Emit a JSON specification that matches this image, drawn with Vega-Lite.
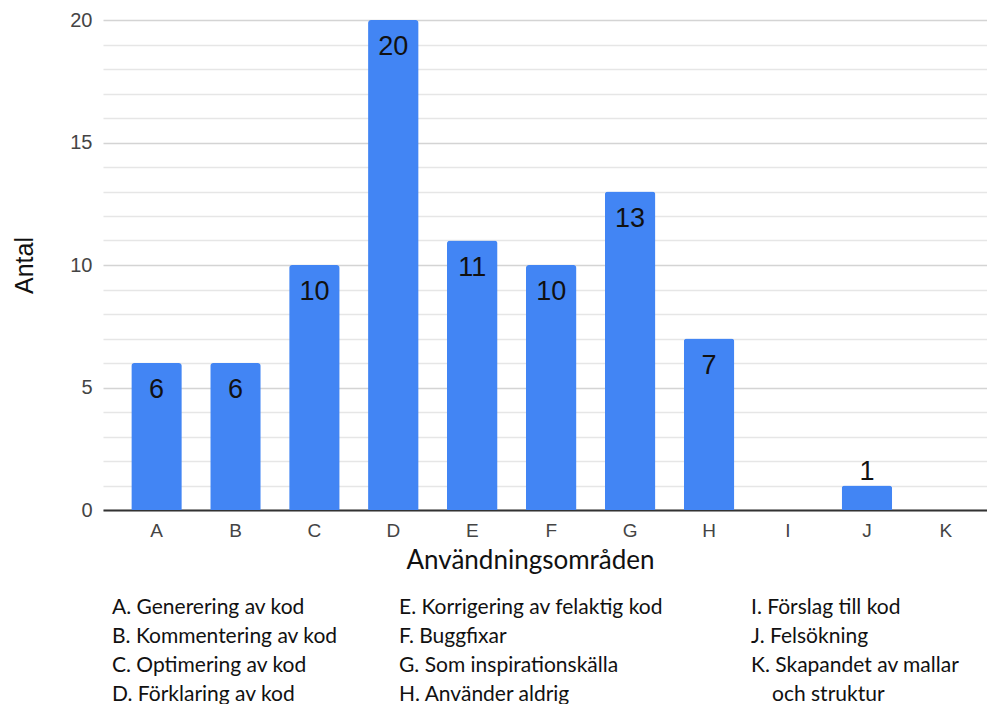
{
  "$schema": "https://vega.github.io/schema/vega-lite/v6.json",
  "padding": {"left": 12, "top": 10, "right": 0, "bottom": 0},
  "spacing": 21,
  "background": "white",
  "config": {"view": {"stroke": null}},
  "vconcat": [
    {
      "width": 884,
      "height": 490,
      "data": {"values": [
        {"omrade": "A", "antal": 6},
        {"omrade": "B", "antal": 6},
        {"omrade": "C", "antal": 10},
        {"omrade": "D", "antal": 20},
        {"omrade": "E", "antal": 11},
        {"omrade": "F", "antal": 10},
        {"omrade": "G", "antal": 13},
        {"omrade": "H", "antal": 7},
        {"omrade": "I", "antal": 0},
        {"omrade": "J", "antal": 1},
        {"omrade": "K", "antal": 0}
      ]},
      "encoding": {
        "x": {
          "field": "omrade", "type": "nominal", "sort": null,
          "scale": {"paddingInner": 0.36, "paddingOuter": 0.28, "align": 0.64},
          "axis": {
            "title": "Användningsområden",
            "titleFont": "Lato", "titleFontSize": 26, "titleFontWeight": "normal", "titleColor": "#111",
            "titlePadding": 7, "titleX": 427, "titleAlign": "center",
            "labelAngle": 0, "labelFont": "Liberation Sans", "labelFontSize": 19, "labelColor": "#444",
            "labelPadding": 11,
            "ticks": false, "domainColor": "#333", "domainWidth": 2, "grid": false
          }
        },
        "y": {
          "field": "antal", "type": "quantitative",
          "scale": {"domain": [0, 20], "nice": false},
          "axis": {
            "title": "Antal",
            "titleFont": "Liberation Sans", "titleFontSize": 25, "titleFontWeight": "normal", "titleColor": "#111",
            "titlePadding": 32,
            "values": [0,1,2,3,4,5,6,7,8,9,10,11,12,13,14,15,16,17,18,19,20],
            "labelExpr": "datum.value % 5 === 0 ? datum.label : ''",
            "labelFont": "Liberation Sans", "labelFontSize": 20, "labelColor": "#444", "labelPadding": 11,
            "ticks": false, "domain": false,
            "gridColor": {"condition": {"test": "datum.value % 5 === 0", "value": "#d4d4d4"}, "value": "#e6e6e6"},
            "gridWidth": 1.5
          }
        }
      },
      "layer": [
        {"mark": {"type": "bar", "color": "#4285F4", "cornerRadiusTopLeft": 3, "cornerRadiusTopRight": 3}},
        {
          "transform": [{"filter": "datum.antal >= 2"}],
          "mark": {"type": "text", "baseline": "alphabetic", "dy": 35, "font": "Liberation Sans", "fontSize": 27, "color": "#111"},
          "encoding": {"text": {"field": "antal", "type": "quantitative"}}
        },
        {
          "transform": [{"filter": "datum.antal > 0 && datum.antal < 2"}],
          "mark": {"type": "text", "baseline": "alphabetic", "dy": -6, "font": "Liberation Sans", "fontSize": 27, "color": "#111"},
          "encoding": {"text": {"field": "antal", "type": "quantitative"}}
        }
      ]
    },
    {
      "width": 884,
      "height": 115,
      "data": {"values": [
        {"kolumn": 1, "rad": 1, "text": "A. Generering av kod", "fortsattning": false},
        {"kolumn": 1, "rad": 2, "text": "B. Kommentering av kod", "fortsattning": false},
        {"kolumn": 1, "rad": 3, "text": "C. Optimering av kod", "fortsattning": false},
        {"kolumn": 1, "rad": 4, "text": "D. Förklaring av kod", "fortsattning": false},
        {"kolumn": 2, "rad": 1, "text": "E. Korrigering av felaktig kod", "fortsattning": false},
        {"kolumn": 2, "rad": 2, "text": "F. Buggfixar", "fortsattning": false},
        {"kolumn": 2, "rad": 3, "text": "G. Som inspirationskälla", "fortsattning": false},
        {"kolumn": 2, "rad": 4, "text": "H. Använder aldrig", "fortsattning": false},
        {"kolumn": 3, "rad": 1, "text": "I. Förslag till kod", "fortsattning": false},
        {"kolumn": 3, "rad": 2, "text": "J. Felsökning", "fortsattning": false},
        {"kolumn": 3, "rad": 3, "text": "K. Skapandet av mallar", "fortsattning": false},
        {"kolumn": 3, "rad": 4, "text": "och struktur", "fortsattning": true}
      ]},
      "encoding": {
        "x": {"field": "kolumn", "type": "quantitative", "scale": {"domain": [1, 2, 3], "range": [9, 296, 648]}, "axis": null},
        "y": {"field": "rad", "type": "ordinal", "scale": {"type": "point", "padding": 0.5}, "axis": null},
        "text": {"field": "text"}
      },
      "layer": [
        {
          "transform": [{"filter": "!datum.fortsattning"}],
          "mark": {"type": "text", "align": "left", "baseline": "middle", "font": "Lato", "fontSize": 21, "color": "#111"}
        },
        {
          "transform": [{"filter": "datum.fortsattning"}],
          "mark": {"type": "text", "align": "left", "baseline": "middle", "dx": 21, "font": "Lato", "fontSize": 21, "color": "#111"}
        }
      ]
    }
  ]
}
